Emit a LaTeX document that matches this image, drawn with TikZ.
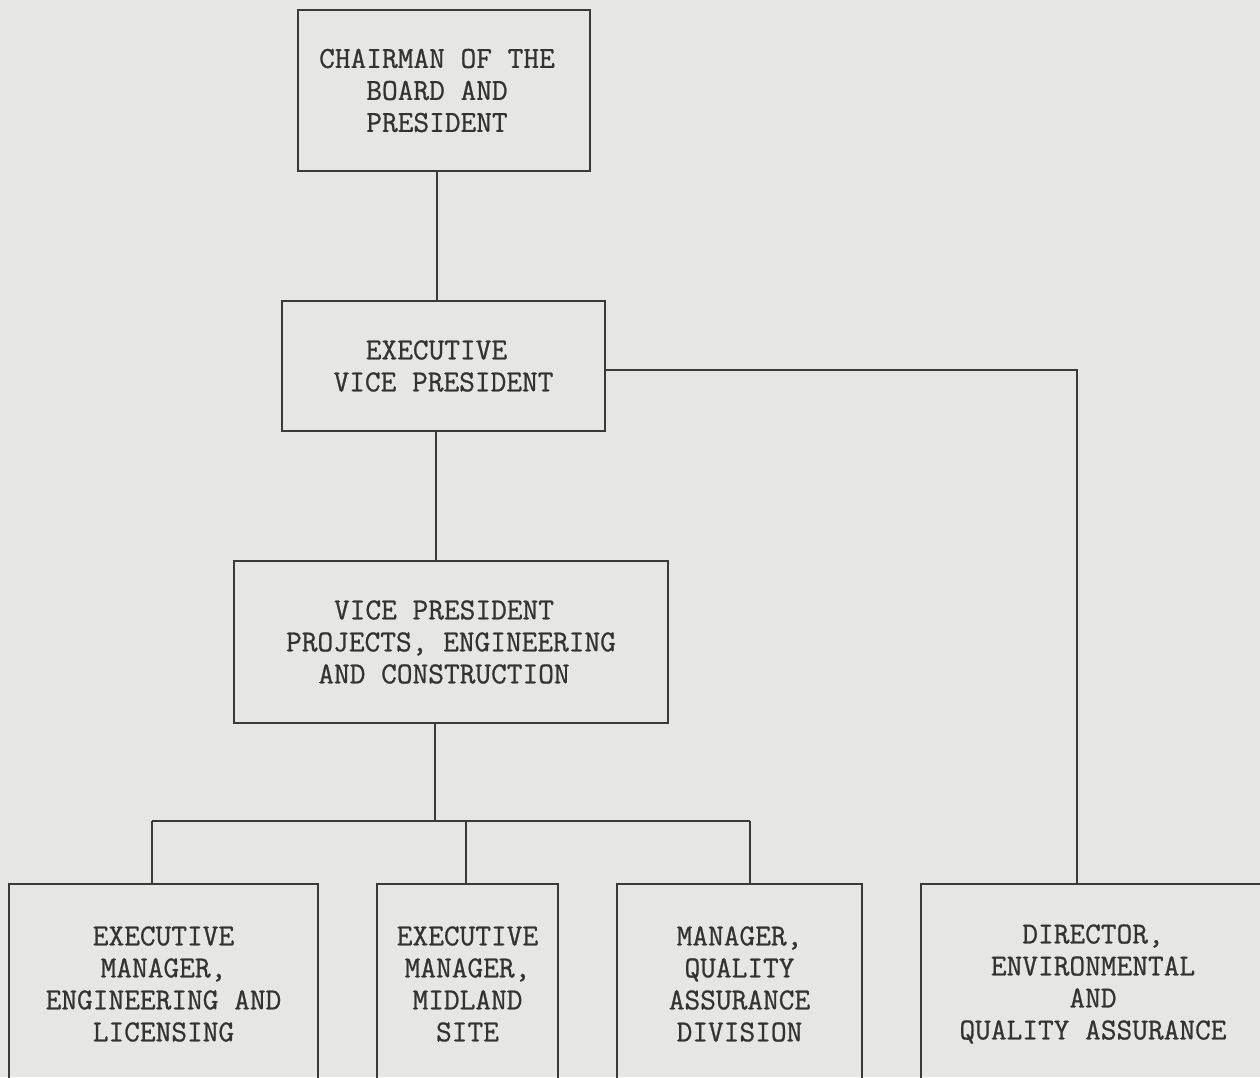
\documentclass[tikz,border=0pt]{standalone}
\usepackage{fontspec}
\newfontfamily\typew{Latin Modern Mono}[FakeBold=0.8]
\definecolor{bgc}{HTML}{E6E6E3}
\definecolor{linec}{HTML}{3A3A3A}
\definecolor{textc}{HTML}{333333}
\tikzset{
  orgbox/.style={draw=linec, line width=2pt, align=center, inner sep=0pt,
    font=\fontsize{30.5}{32}\selectfont\typew, text=textc},
  conn/.style={draw=linec, line width=2pt}
}
\newcommand{\rpad}{\rule{14pt}{0pt}}
\begin{document}
\begin{tikzpicture}[x=1pt,y=-1pt]
\useasboundingbox (0,0) rectangle (1260,1077);
\fill[bgc] (0,0) rectangle (1260,1077);
\clip (0,0) rectangle (1260,1077);

\node[orgbox, minimum width=292pt, minimum height=161pt] (chair) at (444,90.5)
  {CHAIRMAN OF THE\rpad\\BOARD AND\rpad\\PRESIDENT\rpad};
\node[orgbox, minimum width=323pt, minimum height=130pt] (evp) at (443.5,366)
  {EXECUTIVE\rpad\\VICE PRESIDENT};
\node[orgbox, minimum width=434pt, minimum height=162pt] (vp) at (451,642)
  {VICE PRESIDENT\rpad\\PROJECTS, ENGINEERING\\AND CONSTRUCTION\rpad};
\node[orgbox, minimum width=309pt, minimum height=200pt] (eml) at (163.5,984)
  {EXECUTIVE\\MANAGER,\\ENGINEERING AND\\LICENSING};
\node[orgbox, minimum width=181pt, minimum height=200pt] (ems) at (467.5,984)
  {EXECUTIVE\\MANAGER,\\MIDLAND\\SITE};
\node[orgbox, minimum width=245pt, minimum height=200pt] (mqa) at (739.5,984)
  {MANAGER,\\QUALITY\\ASSURANCE\\DIVISION};
\node[orgbox, minimum width=344pt, minimum height=200pt] (dir) at (1093,984)
  {DIRECTOR,\\ENVIRONMENTAL\\AND\\QUALITY ASSURANCE};

\coordinate (bus) at (435,821);
\coordinate (busL) at (152,821);
\coordinate (busM) at (466,821);
\coordinate (busR) at (750,821);

\draw[conn] ([xshift=-7pt]chair.south) -- ([xshift=-7pt]chair.south |- evp.north);
\draw[conn] ([xshift=-8pt]evp.south) -- ([xshift=-8pt]evp.south |- vp.north);
\draw[conn] ([xshift=-16pt]vp.south) -- (bus);
\draw[conn] (busL) -- (busR);
\draw[conn] (busL) -- (busL |- eml.north);
\draw[conn] (busM) -- (busM |- ems.north);
\draw[conn] (busR) -- (busR |- mqa.north);
\draw[conn] ([yshift=-4pt]evp.east) -| ([xshift=-16pt]dir.north);
\end{tikzpicture}
\end{document}
